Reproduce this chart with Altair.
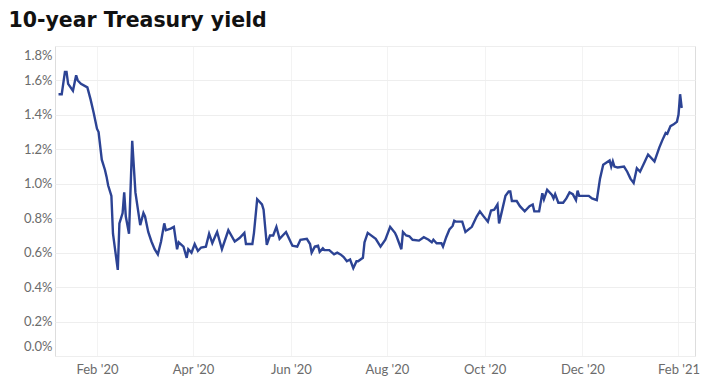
import altair as alt
import pandas as pd

# Days since 3 Feb 2020 and 10-year yield (%)
day_offsets = [0, 2, 4, 5, 6, 9, 11, 12, 14, 18, 20, 22, 24, 25, 27, 29, 30, 31, 33, 34,
               37, 38, 40, 41, 42, 44, 46, 48, 51, 53, 54, 56, 58, 60, 62, 64, 66,
               67, 70, 72, 74, 75, 78, 80, 81, 83, 85, 87, 89, 92, 94, 96, 98, 99, 102,
               106, 110, 113, 116, 117, 121, 122, 124, 127, 128, 130, 132, 134, 136, 138, 142,
               143, 146, 149, 151, 155, 157, 158, 160, 162, 163, 165, 166, 169, 172, 174, 176,
               178, 180, 182, 184, 186, 187, 190, 191, 193, 198, 201, 204, 207, 210, 211, 214,
               215, 217, 219, 221, 225, 228, 231, 233, 234, 236, 239, 240, 242, 244, 246, 247,
               248, 252, 254, 258, 261, 263, 265, 268, 270, 272, 274, 275, 277, 279, 281, 282,
               283, 286, 288, 291, 294, 296, 297, 300, 302, 303, 305, 308, 309, 310, 312, 315,
               317, 319, 321, 323, 324, 325, 331, 333, 336, 338, 340, 344, 345, 346, 347, 349,
               353, 355, 357, 359, 361, 363, 366, 368, 369, 372, 375, 377, 379, 380, 382, 384,
               386, 387, 388, 389]
yields = [1.52, 1.52, 1.65, 1.65, 1.58, 1.54, 1.63, 1.60, 1.58, 1.56, 1.49, 1.41, 1.32, 1.30,
          1.14, 1.08, 1.04, 0.99, 0.93, 0.71, 0.50, 0.77, 0.83, 0.95, 0.81, 0.71, 1.25, 0.95,
          0.76, 0.83, 0.81, 0.72, 0.665, 0.62, 0.59, 0.665, 0.77,
          0.73, 0.74, 0.75, 0.62, 0.66, 0.635, 0.57, 0.62, 0.60, 0.65, 0.61, 0.63, 0.635, 0.71,
          0.655, 0.70, 0.72, 0.62, 0.73, 0.665, 0.685, 0.715, 0.65, 0.65, 0.715, 0.91, 0.88,
          0.85, 0.645, 0.70, 0.70, 0.75, 0.68, 0.72,
          0.70, 0.64, 0.635, 0.675, 0.68, 0.65, 0.60, 0.635, 0.64, 0.605, 0.625, 0.615, 0.615,
          0.59, 0.60, 0.59, 0.575, 0.55, 0.56, 0.51, 0.55, 0.55, 0.57, 0.66, 0.715, 0.68, 0.635,
          0.675, 0.75, 0.715, 0.695, 0.62, 0.72, 0.70, 0.695,
          0.675, 0.67, 0.69, 0.675, 0.66, 0.675, 0.655, 0.655, 0.635, 0.69, 0.735, 0.755, 0.785,
          0.78, 0.78, 0.72, 0.75, 0.81, 0.84, 0.815, 0.78, 0.845, 0.85, 0.88, 0.77, 0.85, 0.93,
          0.955, 0.955, 0.90, 0.90, 0.87, 0.84, 0.87, 0.88, 0.84, 0.84,
          0.945, 0.91, 0.965, 0.935, 0.915, 0.94, 0.89, 0.89, 0.915, 0.95, 0.94, 0.905, 0.96,
          0.93, 0.93, 0.915, 0.905, 1.03, 1.11, 1.135, 1.10, 1.13, 1.10, 1.095, 1.10, 1.07, 1.03,
          1.005, 1.09, 1.07, 1.13, 1.17, 1.16, 1.13, 1.21, 1.255, 1.295, 1.29, 1.335, 1.345,
          1.36, 1.40, 1.52, 1.44]

tick_days = [24, 84, 145, 205, 266, 327, 387]
y_ticks = [0.0, 0.2, 0.4, 0.6, 0.8, 1.0, 1.2, 1.4, 1.6, 1.8]
domain_days = [-2.2, 397.3]

start = pd.Timestamp("2020-02-03")


def to_dt(days):
    t = start + pd.Timedelta(days=days)
    return alt.DateTime(year=t.year, month=t.month, date=t.day,
                        hours=t.hour, minutes=t.minute)


df = pd.DataFrame({
    "date": [(start + pd.Timedelta(days=d)).strftime("%Y-%m-%dT%H:%M:%S") for d in day_offsets],
    "yield": yields,
})

FONT = "Lato"
LABEL = "#6b6b6b"

chart = alt.Chart(df).mark_line(color="#2c4394", strokeWidth=2.4).encode(
    x=alt.X("date:T",
            scale=alt.Scale(domain=[to_dt(d) for d in domain_days]),
            axis=alt.Axis(values=[to_dt(d) for d in tick_days], format="%b '%y",
                          title=None, domain=False, ticks=False, grid=True,
                          gridColor="#f3f3f3", labelPadding=7, labelFontSize=13,
                          labelColor=LABEL, labelFont=FONT)),
    y=alt.Y("yield:Q",
            scale=alt.Scale(domain=[0, 1.8], nice=False, zero=True),
            axis=alt.Axis(values=y_ticks, labelExpr="format(datum.value, '.1f') + '%'",
                          title=None, domain=False, ticks=False, grid=True,
                          gridColor="#eeeeee", labelPadding=3, labelFontSize=13,
                          labelColor=LABEL, labelFont=FONT, labelFlush=True,
                          labelFlushOffset=-3)),
).properties(
    width=640,
    height=310,
    autosize=alt.AutoSizeParams(type="none"),
    padding={"left": 47, "top": 38, "right": 5, "bottom": 24},
    title=alt.TitleParams("10-year Treasury yield", anchor="start", dx=-15, dy=19.5,
                          offset=18, fontSize=20.5, font="DejaVu Sans", fontWeight="bold",
                          color="#111111", baseline="alphabetic"),
).configure_view(stroke=None).configure(background="white")

chart.save("out.html", embed_options={"renderer": "svg", "actions": False})
